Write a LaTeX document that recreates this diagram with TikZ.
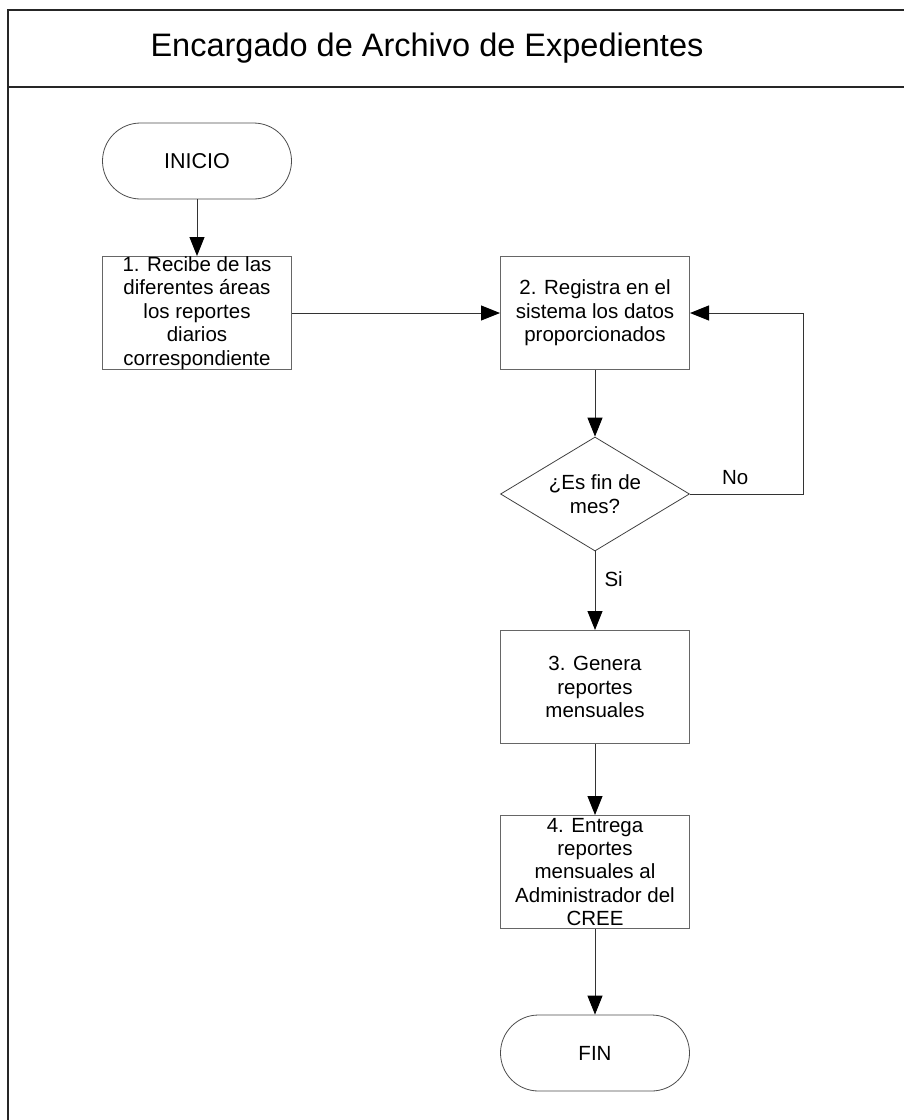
\documentclass[tikz,border=0pt]{standalone}
\usepackage{fontspec}
\setmainfont{Liberation Sans}
\usetikzlibrary{arrows.meta,positioning,shapes.geometric}

\tikzset{
  frame/.style={line width=2pt,black!85},
  proc/.style={draw=black!60,line width=1pt,minimum width=189pt,minimum height=113pt,inner sep=0pt},
  term/.style={draw=black!70,line width=0.8pt,rounded corners=38pt,minimum width=189pt,minimum height=76pt,inner sep=0pt},
  decision/.style={draw=black!75,line width=0.8pt,diamond,minimum width=189pt,minimum height=114pt,inner sep=0pt},
  txt/.style={align=center,font=\fontsize{20.5}{23.4}\selectfont,inner sep=0pt},
  flow/.style={draw=black!80,line width=1pt,-{Triangle[length=19pt,width=15pt,black]}}
}

\begin{document}
\begin{tikzpicture}[x=1pt,y=-1pt,node distance=150pt,on grid,auto]
  \useasboundingbox (0,0) rectangle (904,1120);

  % marco y titulo
  \draw[frame] (8,1120) -- (8,10) -- (904,10);
  \draw[frame] (8,87) -- (904,87);
  \node[font=\fontsize{32.5}{38}\selectfont] (title) at (427,48) {Encargado de Archivo de Expedientes};

  \node[term]	(inicio) at (197,161)	{\fontsize{21.5}{24}\selectfont INICIO};
  \node[proc,label={[txt]center:1. Recibe de las\\diferentes áreas\\los reportes\\diarios\\correspondiente}]
		(p1)   [below=152pt of inicio]	{};
  \node[proc,label={[txt]center:2. Registra en el\\sistema los datos\\proporcionados}]
		(p2)   [right=398pt of p1]	{};
  \node[decision,label={[txt]center:¿Es fin de\\mes?}]
		(d)    [below=181pt of p2]	{};
  \node[proc,label={[txt]center:3. Genera\\reportes\\mensuales}]
		(p3)   [below=193pt of d]	{};
  \node[proc,label={[txt]center:4. Entrega\\reportes\\mensuales al\\Administrador del\\CREE}]
		(p4)   [below=185pt of p3]	{};
  \node[term]	(fin)  [below=181pt of p4]	{\fontsize{20.5}{23.4}\selectfont FIN};
  \coordinate (loop) at (803,494);

  \draw[flow] (inicio) -- (p1);
  \draw[flow] (p1) -- (p2);
  \draw[flow] (p2) -- (d);
  \draw[flow] (d.east) -- node[txt,above=9pt,pos=0.4] {No} (loop) |- (p2.east);
  \draw[flow] (d.south) -- node[txt,right=9pt,pos=0.35] {Si} (p3.north);
  \draw[flow] (p3) -- (p4);
  \draw[flow] (p4) -- (fin);
\end{tikzpicture}
\end{document}
